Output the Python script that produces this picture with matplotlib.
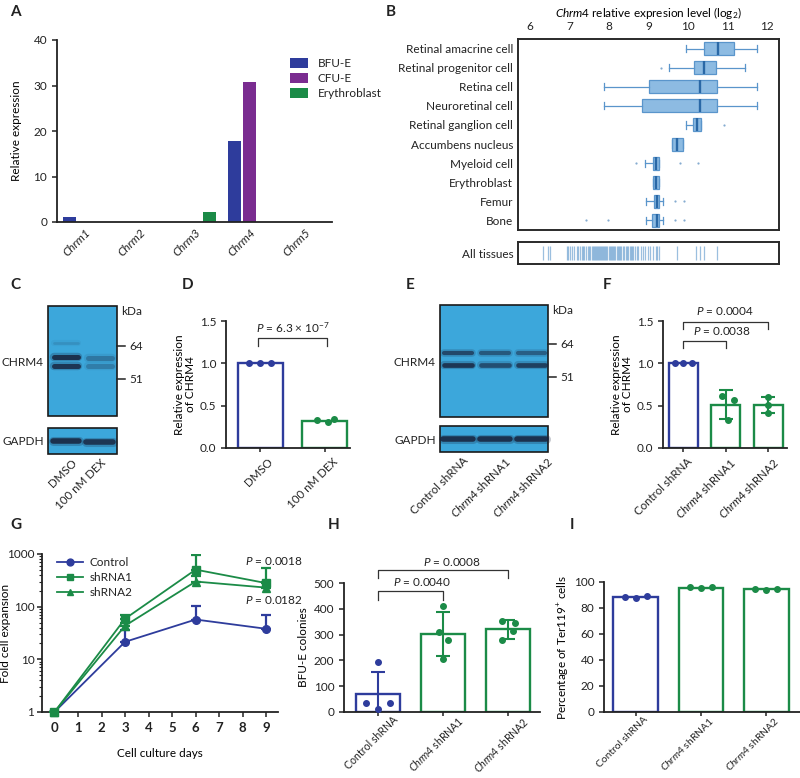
import matplotlib
matplotlib.use("Agg")
import matplotlib.pyplot as plt
import numpy as np
from matplotlib.ticker import FixedLocator, LogLocator, NullFormatter
from matplotlib.transforms import ScaledTranslation

plt.rcParams["font.family"] = ["Lato", "DejaVu Sans"]
plt.rcParams["mathtext.fontset"] = "custom"
plt.rcParams["mathtext.rm"] = "Lato"
plt.rcParams["mathtext.it"] = "Lato:italic"
plt.rcParams["mathtext.bf"] = "Lato:bold"
plt.rcParams["font.size"] = 8
plt.rcParams["axes.linewidth"] = 1.3
plt.rcParams["xtick.color"] = "#222222"
plt.rcParams["ytick.color"] = "#222222"
plt.rcParams["text.color"] = "#222222"

W, H = 800, 778
BLUE = "#2e3c9c"
PURPLE = "#7a2c90"
GREEN = "#1b8b47"
BOX_FACE = "#8dbbe2"
BOX_EDGE = "#5a95cb"
MED = "#2a68a6"
BLOT = "#3ca7db"
BAND = "#18233d"

# ---- A: relative expression of muscarinic receptors
genes = ["Chrm1", "Chrm2", "Chrm3", "Chrm4", "Chrm5"]
bfue_expr = [1.1, 0.0, 0.0, 17.7, 0.0]
cfue_expr = [0.0, 0.0, 0.0, 30.7, 0.0]
ery_expr = [0.0, 0.0, 2.1, 0.0, 0.0]

# ---- B: Chrm4 expression across tissues (log2)
tissues = ["Retinal amacrine cell", "Retinal progenitor cell", "Retina cell",
           "Neuroretinal cell", "Retinal ganglion cell", "Accumbens nucleus",
           "Myeloid cell", "Erythroblast", "Femur", "Bone"]
tissue_whislo = [9.95, 9.52, 7.87, 7.87, 9.94, 9.60, 8.91, 9.11, 8.93, 8.94]
tissue_q1 = [10.41, 10.15, 9.00, 8.84, 10.13, 9.60, 9.12, 9.11, 9.15, 9.10]
tissue_med = [10.75, 10.41, 10.30, 10.30, 10.22, 9.73, 9.20, 9.18, 9.22, 9.21]
tissue_q3 = [11.15, 10.70, 10.73, 10.73, 10.32, 9.87, 9.27, 9.27, 9.27, 9.27]
tissue_whishi = [11.75, 11.45, 11.75, 11.75, 10.32, 9.87, 9.27, 9.27, 9.36, 9.36]
tissue_fliers = [[], [9.31], [], [], [10.92], [], [8.68, 9.80, 10.26], [],
                 [9.67, 9.89], [7.43, 7.98, 9.67, 9.89]]
all_tissues = [6.34, 6.46, 6.52, 6.93, 6.97, 7.02, 7.07, 7.12, 7.18, 7.22, 7.27,
               7.31, 7.35, 7.38, 7.42, 7.46, 7.50, 7.53, 7.56, 7.60, 7.62, 7.65,
               7.68, 7.70, 7.72, 7.74, 7.77, 7.80, 7.82, 7.85, 7.88, 7.90, 7.93,
               7.96, 7.99, 8.02, 8.05, 8.08, 8.10, 8.13, 8.16, 8.20, 8.22, 8.25,
               8.28, 8.31, 8.35, 8.38, 8.42, 8.45, 8.48, 8.52, 8.55, 8.58, 8.62,
               8.66, 8.70, 8.74, 8.80, 8.86, 8.92, 8.98, 9.05, 9.12, 9.18, 9.22,
               9.27, 9.73, 10.19, 10.30, 10.41, 10.74]

# ---- D: DEX treatment
dex_groups = ["DMSO", "100 nM DEX"]
dex_mean = [1.0, 0.32]
dex_points = [[1.0, 1.0, 1.0], [0.33, 0.31, 0.34]]

# ---- F: shRNA knockdown
sh_groups = ["Control shRNA", "$\\it{Chrm4}$ shRNA1", "$\\it{Chrm4}$ shRNA2"]
kd_mean = [1.0, 0.51, 0.51]
kd_sd = [0.0, 0.17, 0.095]
kd_points = [[1.0, 1.0, 1.0], [0.62, 0.57, 0.33], [0.60, 0.51, 0.41]]

# ---- G: fold expansion
days = [0, 3, 6, 9]
control_fold = [1, 21.5, 57, 38]
control_upper = [1, 36, 105, 68]
sh1_fold = [1, 59, 505, 280]
sh1_upper = [1, 68, 940, 540]
sh2_fold = [1, 43.5, 300, 230]
sh2_upper = [1, 50, 380, 300]

# ---- H: BFU-E colonies
bfu_mean = [70, 303, 320]
bfu_sd = [85, 85, 36]
bfu_points = [[195, 35, 35, 12], [410, 310, 280, 205], [352, 345, 315, 278]]

# ---- I: Ter119+ percentage
ter_mean = [88.5, 95.6, 94.4]
ter_points = [[88.6, 87.6, 88.9], [95.8, 95.5, 95.8], [94.8, 93.9, 94.5]]


def px_axes(fig, left, top, right, bottom):
    return fig.add_axes([left / W, 1 - bottom / H, (right - left) / W, (bottom - top) / H])


def clean_axes(ax):
    for side in ("top", "right"):
        ax.spines[side].set_visible(False)
    ax.spines["left"].set_color("#222222")
    ax.spines["bottom"].set_color("#222222")
    ax.tick_params(direction="out", length=3.5, width=1.1, labelsize=8.5)


def bar_dots(ax, means, points, colors, offsets, width=0.68, sd=None):
    x = np.arange(len(means))
    ax.bar(x, means, width=width, facecolor="white", edgecolor=colors, linewidth=1.7, zorder=2)
    for i, pts in enumerate(points):
        ax.scatter(x[i] + np.asarray(offsets[i][: len(pts)]), pts, s=16, color=colors[i],
                   zorder=4, clip_on=False)
        if sd is not None and sd[i] > 0:
            ax.errorbar(x[i], means[i], yerr=sd[i], fmt="none", ecolor=colors[i],
                        elinewidth=1.5, capsize=5, capthick=1.5, zorder=3)
    return x


def bracket(ax, x0, x1, y, drop, text, ty, tx=None):
    ax.plot([x0, x0, x1, x1], [y - drop, y, y, y - drop], color="#333333", lw=0.9,
            clip_on=False)
    if tx is None:
        tx = (x0 + x1) / 2
    ax.text(tx, ty, text, ha="center", va="bottom", fontsize=8.5)


def rotate_labels(ax, labels, dx, dy, size=8.3):
    ax.tick_params(axis="x", length=3, pad=1.5)
    ax.set_xticklabels(labels, rotation=45, ha="right", va="top", rotation_mode="anchor",
                       fontsize=size)
    shift = ScaledTranslation(dx / 100, dy / 100, fig.dpi_scale_trans)
    for t in ax.get_xticklabels():
        t.set_transform(t.get_transform() + shift)


fig = plt.figure(figsize=(W / 100, H / 100), dpi=100)

# overlay in pixel coordinates for blots and panel letters
ov = fig.add_axes([0, 0, 1, 1])
ov.set_xlim(0, W)
ov.set_ylim(H, 0)
ov.axis("off")

for letter, (lx, ly) in {"A": (10, 12), "B": (386, 12), "C": (10, 285), "D": (182, 285),
                         "E": (406, 285), "F": (603, 285), "G": (10, 525),
                         "H": (328, 525), "I": (570, 525)}.items():
    ov.text(lx, ly, letter, fontsize=11, fontweight="bold", ha="left", va="center")


def draw_blot(x0, x1, y0, y1):
    ov.add_patch(plt.Rectangle((x0, y0), x1 - x0, y1 - y0, facecolor=BLOT,
                               edgecolor="#1a1a1a", linewidth=1.2))


def draw_band(xa, xb, y, strength, lw=3.6):
    ov.plot([xa, xb], [y, y], color=BAND, lw=lw + 2.5, alpha=0.25 * strength,
            solid_capstyle="round")
    ov.plot([xa, xb], [y, y], color=BAND, lw=lw, alpha=0.85 * strength,
            solid_capstyle="round")


# ---- C: western blot DEX
draw_blot(48, 117, 306, 416)
draw_blot(48, 117, 428, 454)
draw_band(54, 78, 343, 0.15, lw=2)
draw_band(54, 78, 357, 1.0)
draw_band(54, 78, 365.5, 0.95)
draw_band(88, 112, 358, 0.35)
draw_band(88, 112, 366, 0.3)
draw_band(53, 79, 441, 1.0, lw=4)
draw_band(86, 113, 441.5, 0.95, lw=4)
for yk, lab in ((346, "64"), (379, "51")):
    ov.plot([117, 125], [yk, yk], color="#222222", lw=1.1)
    ov.text(129, yk, lab, va="center", ha="left", fontsize=8.5)
ov.text(121, 311, "kDa", va="center", ha="left", fontsize=8.5)
ov.text(44, 362, "CHRM4", va="center", ha="right", fontsize=8.5)
ov.text(44, 441, "GAPDH", va="center", ha="right", fontsize=8.5)
for xe, lab in ((71, "DMSO"), (100, "100 nM DEX")):
    ov.text(xe, 457, lab, rotation=45, ha="right", va="top", rotation_mode="anchor",
            fontsize=8.3)

# ---- E: western blot shRNA
draw_blot(440, 548, 305, 417)
draw_blot(440, 548, 426, 452)
for xa, xb, s1, s2 in ((444, 472, 0.75, 0.95), (481, 509, 0.6, 0.7), (518, 545, 0.55, 0.85)):
    draw_band(xa, xb, 353, s1, lw=3)
    draw_band(xa, xb, 364.5, s2, lw=3.4)
    draw_band(xa - 1, xb + 1, 439, 1.0, lw=4)
for yk, lab in ((344, "64"), (377, "51")):
    ov.plot([548, 556], [yk, yk], color="#222222", lw=1.1)
    ov.text(560, yk, lab, va="center", ha="left", fontsize=8.5)
ov.text(552, 310, "kDa", va="center", ha="left", fontsize=8.5)
ov.text(436, 362, "CHRM4", va="center", ha="right", fontsize=8.5)
ov.text(436, 440, "GAPDH", va="center", ha="right", fontsize=8.5)
for xe, lab in ((462, "Control shRNA"), (504, "$\\it{Chrm4}$ shRNA1"), (546, "$\\it{Chrm4}$ shRNA2")):
    ov.text(xe, 455, lab, rotation=45, ha="right", va="top", rotation_mode="anchor",
            fontsize=8.3)

# ---- A
ax_a = px_axes(fig, 57, 40, 332, 222)
clean_axes(ax_a)
xg = np.arange(len(genes))
for off, vals, col, lab in ((-0.273, bfue_expr, BLUE, "BFU-E"),
                            (0.0, cfue_expr, PURPLE, "CFU-E"),
                            (0.273, ery_expr, GREEN, "Erythroblast")):
    ax_a.bar(xg + off, vals, width=0.23, color=col, label=lab)
ax_a.set_xlim(-0.5, 4.5)
ax_a.set_ylim(0, 40)
ax_a.set_yticks([0, 10, 20, 30, 40])
ax_a.set_xticks(xg)
ax_a.tick_params(axis="x", length=0)
ax_a.set_xticklabels(genes, rotation=45, ha="right", rotation_mode="anchor",
                     fontstyle="italic", fontsize=8.5)
ax_a.set_ylabel("Relative expression", fontsize=8.5, labelpad=8)
ax_a.legend(loc="upper left", bbox_to_anchor=(0.81, 0.96), frameon=False, fontsize=8.5,
            handlelength=1.5, handleheight=0.9, labelspacing=0.35, handletextpad=0.8)

# ---- B
ax_b = px_axes(fig, 518, 39, 779, 230)
stats = []
for i in range(len(tissues)):
    stats.append(dict(whislo=tissue_whislo[i], q1=tissue_q1[i], med=tissue_med[i],
                      q3=tissue_q3[i], whishi=tissue_whishi[i], fliers=tissue_fliers[i]))
ax_b.bxp(stats, positions=np.arange(len(tissues)), widths=0.68, orientation="horizontal",
         patch_artist=True, capwidths=0.38,
         boxprops=dict(facecolor=BOX_FACE, edgecolor=BOX_EDGE, linewidth=0.9),
         medianprops=dict(color=MED, linewidth=1.7),
         whiskerprops=dict(color=BOX_EDGE, linewidth=0.9),
         capprops=dict(color=BOX_EDGE, linewidth=0.9),
         flierprops=dict(marker="o", markersize=1.6, markerfacecolor="#86abd0",
                         markeredgecolor="none"))
ax_b.set_xlim(5.7, 12.3)
ax_b.set_ylim(9.5, -0.5)
ax_b.set_yticks(np.arange(len(tissues)))
ax_b.set_yticklabels(tissues, fontsize=8.5)
ax_b.xaxis.tick_top()
ax_b.set_xticks([6, 7, 8, 9, 10, 11, 12])
ax_b.tick_params(length=0, labelsize=8.5)
ax_b.tick_params(axis="x", pad=5)
ax_b.xaxis.set_label_position("top")
ax_b.set_xlabel("$\\it{Chrm4}$ relative expresion level (log$_2$)", fontsize=8.5, labelpad=3)
for sp in ax_b.spines.values():
    sp.set_color("#2a2a2a")
    sp.set_linewidth(1.4)

ax_r = px_axes(fig, 518, 242, 779, 264)
ax_r.vlines(all_tissues, 0.2, 0.8, color="#4a8cc6", alpha=0.55, linewidth=0.9)
ax_r.set_xlim(5.7, 12.3)
ax_r.set_ylim(0, 1)
ax_r.set_xticks([])
ax_r.set_yticks([0.5])
ax_r.set_yticklabels(["All tissues"], fontsize=8.5)
ax_r.tick_params(length=0)
for sp in ax_r.spines.values():
    sp.set_color("#2a2a2a")
    sp.set_linewidth(1.4)

# ---- D
ax_d = px_axes(fig, 226, 321, 350, 448)
clean_axes(ax_d)
xd = bar_dots(ax_d, dex_mean, dex_points, [BLUE, GREEN],
              [[-0.17, 0.0, 0.17], [-0.12, 0.05, 0.14]], width=0.7)
ax_d.set_xlim(-0.53, 1.39)
ax_d.set_ylim(0, 1.5)
ax_d.set_yticks([0.0, 0.5, 1.0, 1.5])
ax_d.set_yticklabels(["0.0", "0.5", "1.0", "1.5"])
ax_d.set_xticks(xd)
rotate_labels(ax_d, dex_groups, dx=7, dy=-2)
ax_d.set_ylabel("Relative expression\nof CHRM4", fontsize=8.5, labelpad=3, linespacing=1.0)
bracket(ax_d, -0.03, 1.03, 1.30, 0.10, "$\\it{P}$ = 6.3 × 10$^{-7}$", 1.34)

# ---- F
ax_f = px_axes(fig, 663, 321, 787, 448)
clean_axes(ax_f)
xf = bar_dots(ax_f, kd_mean, kd_points, [BLUE, GREEN, GREEN],
              [[-0.2, 0.0, 0.2], [-0.1, 0.2, 0.05], [0.0, 0.0, 0.0]], width=0.68, sd=kd_sd)
ax_f.set_xlim(-0.48, 2.44)
ax_f.set_ylim(0, 1.5)
ax_f.set_yticks([0.0, 0.5, 1.0, 1.5])
ax_f.set_yticklabels(["0.0", "0.5", "1.0", "1.5"])
ax_f.set_xticks(xf)
rotate_labels(ax_f, sh_groups, dx=3, dy=-2)
ax_f.set_ylabel("Relative expression\nof CHRM4", fontsize=8.5, labelpad=3, linespacing=1.0)
bracket(ax_f, 0.0, 1.0, 1.26, 0.08, "$\\it{P}$ = 0.0038", 1.31, tx=0.9)
bracket(ax_f, 0.0, 2.0, 1.49, 0.08, "$\\it{P}$ = 0.0004", 1.55, tx=0.98)

# ---- G
ax_g = px_axes(fig, 42, 554, 278, 712)
clean_axes(ax_g)
for vals, upper, marker, col, lab in ((control_fold, control_upper, "o", BLUE, "Control"),
                                      (sh1_fold, sh1_upper, "s", GREEN, "shRNA1"),
                                      (sh2_fold, sh2_upper, "^", GREEN, "shRNA2")):
    vals = np.asarray(vals, dtype=float)
    upper = np.asarray(upper, dtype=float)
    ax_g.errorbar(days, vals, yerr=[np.zeros_like(vals), upper - vals], fmt="none",
                  ecolor=col, elinewidth=1.6, capsize=3.5, capthick=1.6, zorder=3)
    ax_g.plot(days, vals, marker=marker, color=col, markersize=5.5, linewidth=1.3,
              label=lab, zorder=4, clip_on=False)
ax_g.set_yscale("log")
ax_g.set_ylim(1, 1000)
ax_g.set_xlim(-0.53, 9.5)
ax_g.yaxis.set_major_locator(FixedLocator([1, 10, 100, 1000]))
ax_g.set_yticklabels(["1", "10", "100", "1000"])
ax_g.yaxis.set_minor_locator(LogLocator(base=10, subs=np.arange(2, 10)))
ax_g.yaxis.set_minor_formatter(NullFormatter())
ax_g.tick_params(axis="y", which="minor", length=2, width=0.8)
ax_g.tick_params(axis="y", pad=2)
ax_g.set_xticks(range(10))
ax_g.tick_params(axis="x", labelsize=9.5)
for t in ax_g.get_xticklabels():
    t.set_fontweight("bold")
ax_g.set_xlabel("Cell culture days", fontsize=8.5, labelpad=10)
ax_g.set_ylabel("Fold cell expansion", fontsize=8.5)
ax_g.yaxis.set_label_coords(-0.13, 0.5)
ax_g.legend(loc="upper left", bbox_to_anchor=(0.02, 1.05), frameon=False, fontsize=8.5,
            handlelength=2.2, labelspacing=0.35, handletextpad=0.5, markerscale=0.9)
ax_g.text(8.1, 740, "$\\it{P}$ = 0.0018", ha="left", va="center", fontsize=8.5, clip_on=False)
ax_g.text(8.1, 135, "$\\it{P}$ = 0.0182", ha="left", va="center", fontsize=8.5, clip_on=False)

# ---- H
ax_h = px_axes(fig, 344, 583, 540, 712)
clean_axes(ax_h)
xh = bar_dots(ax_h, bfu_mean, bfu_points, [BLUE, GREEN, GREEN],
              [[0.0, -0.18, 0.18, 0.0], [0.0, -0.06, 0.07, 0.0], [-0.1, 0.1, 0.08, -0.1]],
              width=0.67, sd=bfu_sd)
ax_h.set_xlim(-0.52, 2.49)
ax_h.set_ylim(0, 500)
ax_h.set_yticks([0, 100, 200, 300, 400, 500])
ax_h.set_xticks(xh)
rotate_labels(ax_h, sh_groups, dx=14, dy=4, size=7.6)
ax_h.set_ylabel("BFU-E colonies", fontsize=8.5, labelpad=3)
bracket(ax_h, 0.0, 1.0, 470, 35, "$\\it{P}$ = 0.0040", 482, tx=0.67)
bracket(ax_h, 0.0, 2.0, 549, 30, "$\\it{P}$ = 0.0008", 560, tx=1.13)

# ---- I
ax_i = px_axes(fig, 604, 582, 800, 712)
clean_axes(ax_i)
xi = bar_dots(ax_i, ter_mean, ter_points, [BLUE, GREEN, GREEN],
              [[-0.17, 0.0, 0.17], [-0.17, 0.0, 0.17], [-0.17, 0.0, 0.17]], width=0.69)
ax_i.set_xlim(-0.49, 2.52)
ax_i.set_ylim(0, 100)
ax_i.set_yticks([0, 20, 40, 60, 80, 100])
ax_i.set_xticks(xi)
rotate_labels(ax_i, sh_groups, dx=7, dy=3, size=7.4)
ax_i.set_ylabel("Percentage of Ter119$^{+}$ cells", fontsize=8.5, labelpad=2)

fig.savefig("out.png", dpi=100)
